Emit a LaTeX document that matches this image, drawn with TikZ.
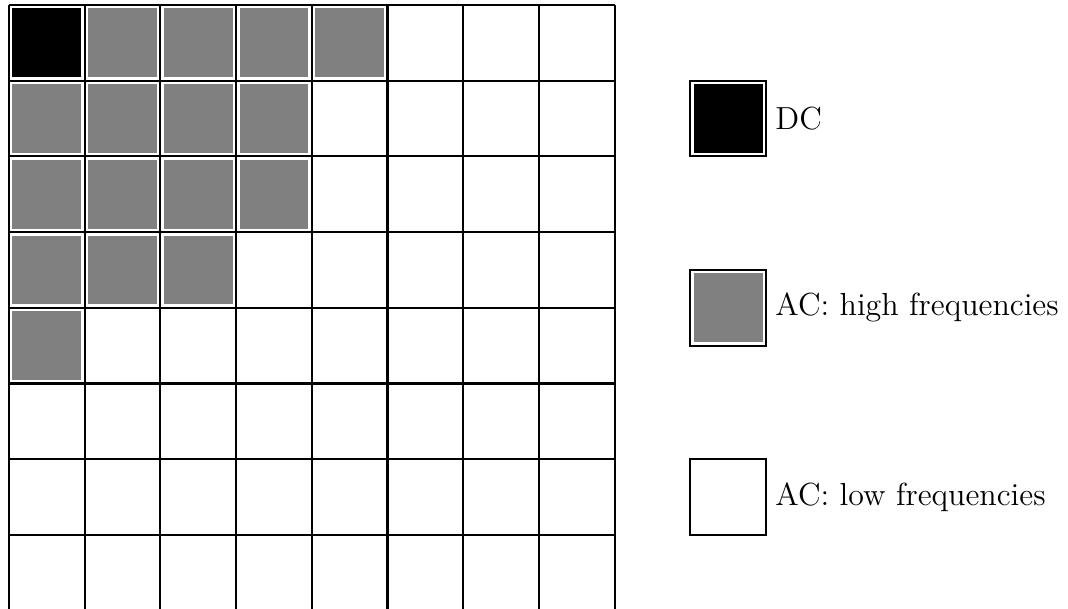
\documentclass[tikz,border=0pt]{standalone}
\begin{document}
\begin{tikzpicture}[x=1cm,y=1cm,font=\large]
\useasboundingbox (-0.119,0.034) rectangle (13.989,8.066);
\draw[thick] (0,0) grid (8,8);
\fill[black] (0.045,7.045) rectangle (0.955,7.955);
\foreach \c/\r in {1/7,2/7,3/7,4/7,0/6,1/6,2/6,3/6,0/5,1/5,2/5,3/5,0/4,1/4,2/4,0/3}
  \fill[gray] (\c+0.045,\r+0.045) rectangle (\c+0.955,\r+0.955);
\draw[thick] (9,6) rectangle (10,7); \fill[black] (9.045,6.045) rectangle (9.955,6.955);
\node[right] (dc) at (10,6.5) {DC};
\draw[thick] (9,3.5) rectangle (10,4.5); \fill[gray] (9.045,3.545) rectangle (9.955,4.455);
\node[right] (high) at (10,4) {AC: high frequencies};
\draw[thick] (9,1) rectangle (10,2);
\node[right] (low) at (10,1.5) {AC: low frequencies};
\end{tikzpicture}
\end{document}
